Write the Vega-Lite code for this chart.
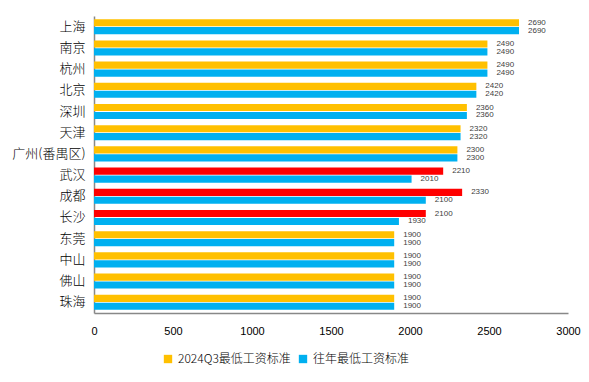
{
  "$schema": "https://vega.github.io/schema/vega-lite/v6.json",
  "autosize": "none",
  "width": 474,
  "height": 297,
  "padding": {"left": 94, "top": 16, "right": 21, "bottom": 69},
  "background": "white",
  "config": {
    "view": {"stroke": null},
    "font": "Noto Sans CJK SC"
  },
  "data": {
    "values": [
      {"city": "上海", "series": "2024Q3最低工资标准", "value": 2690},
      {"city": "上海", "series": "往年最低工资标准", "value": 2690},
      {"city": "南京", "series": "2024Q3最低工资标准", "value": 2490},
      {"city": "南京", "series": "往年最低工资标准", "value": 2490},
      {"city": "杭州", "series": "2024Q3最低工资标准", "value": 2490},
      {"city": "杭州", "series": "往年最低工资标准", "value": 2490},
      {"city": "北京", "series": "2024Q3最低工资标准", "value": 2420},
      {"city": "北京", "series": "往年最低工资标准", "value": 2420},
      {"city": "深圳", "series": "2024Q3最低工资标准", "value": 2360},
      {"city": "深圳", "series": "往年最低工资标准", "value": 2360},
      {"city": "天津", "series": "2024Q3最低工资标准", "value": 2320},
      {"city": "天津", "series": "往年最低工资标准", "value": 2320},
      {"city": "广州(番禺区)", "series": "2024Q3最低工资标准", "value": 2300},
      {"city": "广州(番禺区)", "series": "往年最低工资标准", "value": 2300},
      {"city": "武汉", "series": "2024Q3最低工资标准", "value": 2210},
      {"city": "武汉", "series": "往年最低工资标准", "value": 2010},
      {"city": "成都", "series": "2024Q3最低工资标准", "value": 2330},
      {"city": "成都", "series": "往年最低工资标准", "value": 2100},
      {"city": "长沙", "series": "2024Q3最低工资标准", "value": 2100},
      {"city": "长沙", "series": "往年最低工资标准", "value": 1930},
      {"city": "东莞", "series": "2024Q3最低工资标准", "value": 1900},
      {"city": "东莞", "series": "往年最低工资标准", "value": 1900},
      {"city": "中山", "series": "2024Q3最低工资标准", "value": 1900},
      {"city": "中山", "series": "往年最低工资标准", "value": 1900},
      {"city": "佛山", "series": "2024Q3最低工资标准", "value": 1900},
      {"city": "佛山", "series": "往年最低工资标准", "value": 1900},
      {"city": "珠海", "series": "2024Q3最低工资标准", "value": 1900},
      {"city": "珠海", "series": "往年最低工资标准", "value": 1900}
    ]
  },
  "encoding": {
    "y": {
      "field": "city",
      "type": "nominal",
      "sort": null,
      "scale": {"paddingInner": 0.29, "paddingOuter": 0.15},
      "axis": {
        "title": null,
        "ticks": false,
        "labelPadding": 9,
        "labelFontSize": 13,
        "labelFontWeight": 300,
        "labelColor": "#000000",
        "labelFont": "Noto Sans CJK SC",
        "domainColor": "#888888",
        "domainWidth": 1.5
      }
    },
    "yOffset": {
      "field": "series",
      "type": "nominal",
      "sort": ["2024Q3最低工资标准", "往年最低工资标准"],
      "scale": {"paddingInner": 0.1}
    },
    "x": {
      "field": "value",
      "type": "quantitative",
      "scale": {"domain": [0, 3000], "nice": false},
      "axis": {
        "title": null,
        "values": [0, 500, 1000, 1500, 2000, 2500, 3000],
        "format": "d",
        "grid": false,
        "ticks": false,
        "labelFlush": false,
        "labelPadding": 12,
        "labelFontSize": 11,
        "labelColor": "#000000",
        "labelFont": "Liberation Sans",
        "domainColor": "#888888",
        "domainWidth": 1.5
      }
    }
  },
  "layer": [
    {
      "mark": {"type": "bar"},
      "encoding": {
        "color": {
          "condition": {
            "test": "(datum.city == '武汉' || datum.city == '成都' || datum.city == '长沙') && datum.series == '2024Q3最低工资标准'",
            "value": "#FF0000"
          },
          "field": "series",
          "type": "nominal",
          "scale": {
            "domain": ["2024Q3最低工资标准", "往年最低工资标准"],
            "range": ["#FFC000", "#00B0F0"]
          },
          "legend": {
            "title": null,
            "orient": "none",
            "legendX": 68,
            "legendY": 337,
            "direction": "horizontal",
            "symbolType": "square",
            "symbolSize": 70,
            "symbolStrokeWidth": 0,
            "labelFontSize": 12,
            "labelFontWeight": 300,
            "labelColor": "#000000",
            "labelFont": "Noto Sans CJK SC",
            "columnPadding": 6,
            "labelOffset": 4
          }
        }
      }
    },
    {
      "mark": {"type": "text", "align": "left", "baseline": "middle", "dx": 9, "fontSize": 8, "color": "#404040", "font": "Liberation Sans"},
      "encoding": {
        "text": {"field": "value", "type": "quantitative"}
      }
    }
  ]
}
